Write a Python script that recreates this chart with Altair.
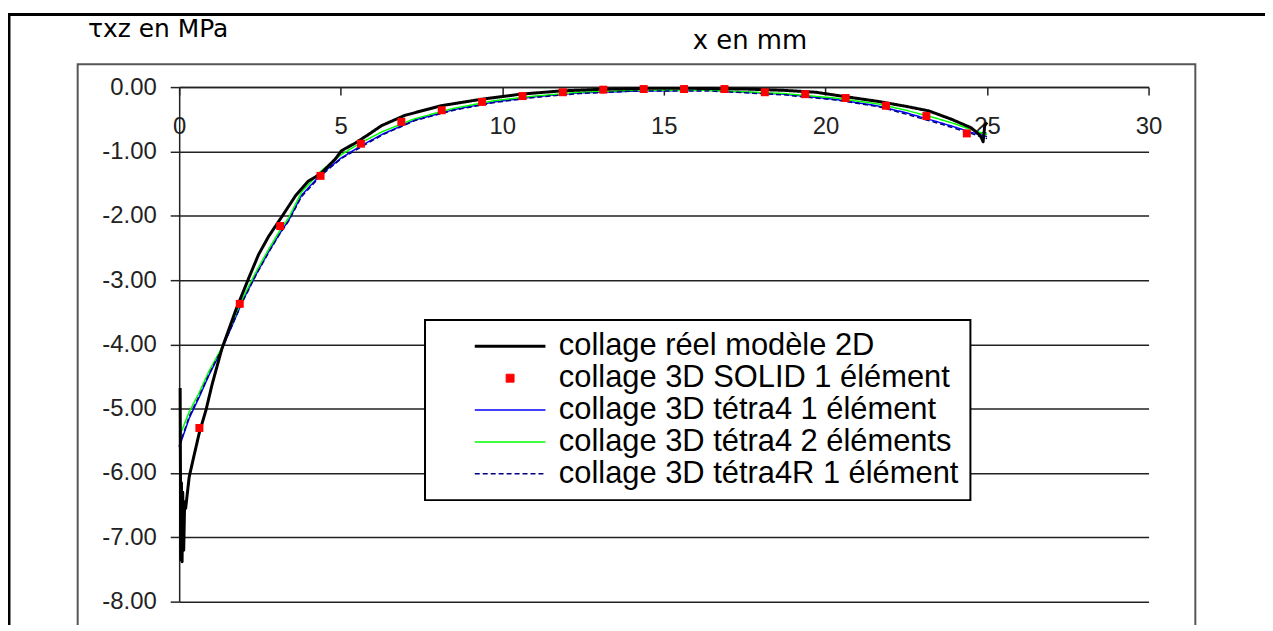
import altair as alt
import pandas as pd

# ---------------- data ----------------
series_names = [
    "collage réel modèle 2D",
    "collage 3D SOLID 1 élément",
    "collage 3D tétra4 1 élément",
    "collage 3D tétra4 2 éléments",
    "collage 3D tétra4R 1 élément",
]
series_colors = ["#000000", "#FF0000", "#0000FF", "#00FF00", "#000080"]

# black curve: 2D model
real2d_x = [0.03, 0.05, 0.07, 0.09, 0.11, 0.14, 0.17, 0.2, 0.31, 0.45, 0.62, 0.83, 1.02,
            1.32, 1.75, 2.16, 2.46, 2.77, 3.17, 3.6, 4.0, 4.37, 4.83, 5.02, 5.45, 5.85,
            6.26, 6.98, 8.1, 9.34, 10.57, 11.8, 13.0, 14.5, 16.0, 17.5, 18.7, 19.7, 20.5,
            21.6, 22.5, 23.2, 23.9, 24.5, 24.7, 24.82, 24.88, 24.93, 25.0]
real2d_y = [-4.68, -7.35, -6.15, -7.38, -6.3, -7.2, -6.45, -6.55, -6.06, -5.75, -5.38,
            -5.02, -4.62, -4.07, -3.47, -2.96, -2.6, -2.32, -2.02, -1.69, -1.46, -1.35,
            -1.12, -0.99, -0.87, -0.74, -0.6, -0.44, -0.29, -0.19, -0.11, -0.06, -0.035,
            -0.02, -0.02, -0.03, -0.05, -0.08, -0.14, -0.22, -0.3, -0.37, -0.5, -0.63,
            -0.71, -0.78, -0.85, -0.6, -0.55]

# red squares: 3D SOLID, one element
solid_x = [0.625, 1.875, 3.125, 4.375, 5.625, 6.875, 8.125, 9.375, 10.625, 11.875,
           13.125, 14.375, 15.625, 16.875, 18.125, 19.375, 20.625, 21.875, 23.125, 24.375]
solid_y = [-5.30, -3.37, -2.16, -1.38, -0.88, -0.54, -0.36, -0.23, -0.14, -0.08,
           -0.04, -0.03, -0.03, -0.03, -0.08, -0.11, -0.17, -0.29, -0.45, -0.72]

# tetra curves
tetra_x = [0.0, 0.31, 0.62, 0.92, 1.32, 1.95, 2.37, 2.77, 3.08, 3.39, 3.79, 4.4, 5.02,
           5.6, 6.3, 7.3, 8.5, 9.76, 11.0, 12.4, 14.2, 16.4, 18.7, 20.3, 21.6, 22.5,
           23.4, 24.0, 24.5, 25.0]
tetra4_1_y = [-5.6, -5.15, -4.82, -4.48, -4.08, -3.34, -2.92, -2.56, -2.3, -2.07, -1.68,
              -1.35, -1.1, -0.92, -0.73, -0.51, -0.35, -0.23, -0.15, -0.09, -0.06, -0.05,
              -0.11, -0.19, -0.29, -0.4, -0.53, -0.62, -0.7, -0.77]
tetra4_2_y = [-5.44, -5.05, -4.75, -4.42, -4.05, -3.3, -2.88, -2.52, -2.26, -2.03, -1.63,
              -1.3, -1.05, -0.87, -0.69, -0.49, -0.33, -0.21, -0.14, -0.08, -0.05, -0.05,
              -0.1, -0.17, -0.26, -0.36, -0.48, -0.57, -0.66, -0.74]
tetra4r_1_y = [-5.58, -5.12, -4.8, -4.47, -4.07, -3.35, -2.93, -2.57, -2.31, -2.08, -1.7,
               -1.37, -1.11, -0.94, -0.74, -0.52, -0.36, -0.24, -0.16, -0.1, -0.06, -0.06,
               -0.12, -0.2, -0.3, -0.42, -0.55, -0.64, -0.72, -0.8]

x_ticks = [0, 5, 10, 15, 20, 25, 30]
y_ticks = [-8, -7, -6, -5, -4, -3, -2, -1, 0]

# ---------------- tables ----------------
rows = []
for name, xs, ys in [
    (series_names[2], tetra_x, tetra4_1_y),
    (series_names[3], tetra_x, tetra4_2_y),
    (series_names[4], tetra_x, tetra4r_1_y),
    (series_names[0], real2d_x, real2d_y),
]:
    for i, (xv, yv) in enumerate(zip(xs, ys)):
        rows.append({"x": xv, "y": yv, "series": name, "i": i})
lines_df = pd.DataFrame(rows)
pts_df = pd.DataFrame({"x": solid_x, "y": solid_y, "series": series_names[1]})

W, H = 974, 517
line_path = "M-7.1,0H7.1"
square_path = "M-0.8,-0.8H0.8V0.8H-0.8Z"

color_scale = alt.Scale(domain=series_names, range=series_colors)
dash_scale = alt.Scale(domain=series_names, range=[[1, 0], [1, 0], [1, 0], [1, 0], [5, 3]])
width_scale = alt.Scale(domain=series_names, range=[3, 1, 1.5, 1.5, 1.5], type="ordinal")
shape_scale = alt.Scale(domain=series_names,
                        range=[line_path, square_path, line_path, line_path, line_path])

x_scale = alt.Scale(domain=[0, 30], nice=False, zero=False)
y_scale = alt.Scale(domain=[-8, 0], nice=False)

axis_col = "#222222"
x_axis = alt.Axis(
    orient="bottom", offset=-H, values=x_ticks, tickSize=8, tickColor=axis_col,
    tickWidth=1.5, domainColor=axis_col, domainWidth=1.5, labelFont="Liberation Sans",
    labelFontSize=24, labelColor=axis_col, labelPadding=20, labelFlush=False,
    labelOverlap=False, grid=False, title="x en mm", titleFont="DejaVu Sans",
    titleFontSize=26, titleFontWeight="normal", titleColor="black", titleX=573,
    titleY=-47, titleAlign="center", titleBaseline="middle", titleAngle=0,
)
y_axis = alt.Axis(
    orient="left", values=y_ticks,
    labelExpr="replace(format(datum.value, '.2f'), '\u2212', '-')",
    tickSize=9, tickColor=axis_col, tickWidth=1.5, domainColor=axis_col, domainWidth=1.5,
    labelFont="Liberation Sans", labelFontSize=24, labelColor=axis_col, labelPadding=14,
    grid=True, gridColor=axis_col, gridWidth=1.5, title="τxz en MPa",
    titleFont="DejaVu Sans", titleFontSize=25, titleFontWeight="normal",
    titleColor="black", titleAngle=0, titleX=-92, titleY=-59, titleAlign="left",
    titleBaseline="middle",
)

legend = alt.Legend(
    orient="none", legendX=247, legendY=234, title=None, padding=11,
    strokeColor="black", fillColor="white", labelFont="Liberation Sans",
    labelFontSize=31, labelColor="black", labelLimit=1000, symbolOffset=59,
    labelOffset=33.5, rowPadding=0, symbolSize=100,
)

frame_df = pd.DataFrame({"k": [0]})
outer = alt.Chart(frame_df).mark_rect(fillOpacity=0, stroke="black", strokeWidth=3).encode(
    x=alt.value(-171), x2=alt.value(1200), y=alt.value(-73), y2=alt.value(700)
)
inner = alt.Chart(frame_df).mark_rect(fillOpacity=0, stroke="#555555", strokeWidth=2).encode(
    x=alt.value(-102), x2=alt.value(1021), y=alt.value(-23), y2=alt.value(700)
)

lines = alt.Chart(lines_df).mark_line(strokeJoin="round").encode(
    x=alt.X("x:Q", scale=x_scale, axis=x_axis),
    y=alt.Y("y:Q", scale=y_scale, axis=y_axis),
    color=alt.Color("series:N", scale=color_scale, legend=legend),
    strokeDash=alt.StrokeDash("series:N", scale=dash_scale),
    strokeWidth=alt.StrokeWidth("series:N", scale=width_scale),
    detail="series:N",
    order="i:Q",
)

points = alt.Chart(pts_df).mark_point(filled=True, size=100, opacity=1, strokeWidth=0).encode(
    x=alt.X("x:Q", scale=x_scale, axis=x_axis),
    y=alt.Y("y:Q", scale=y_scale, axis=y_axis),
    color=alt.Color("series:N", scale=color_scale, legend=legend),
    shape=alt.Shape("series:N", scale=shape_scale),
)

chart = alt.layer(outer, inner, lines, points).properties(
    width=W, height=H,
    padding={"left": 172, "top": 78, "right": 117, "bottom": 22},
    autosize=alt.AutoSizeParams(type="none"),
).configure_view(stroke="transparent").configure_legend(strokeWidth=2)

chart.save("out.html", embed_options={"renderer": "svg", "actions": False})
